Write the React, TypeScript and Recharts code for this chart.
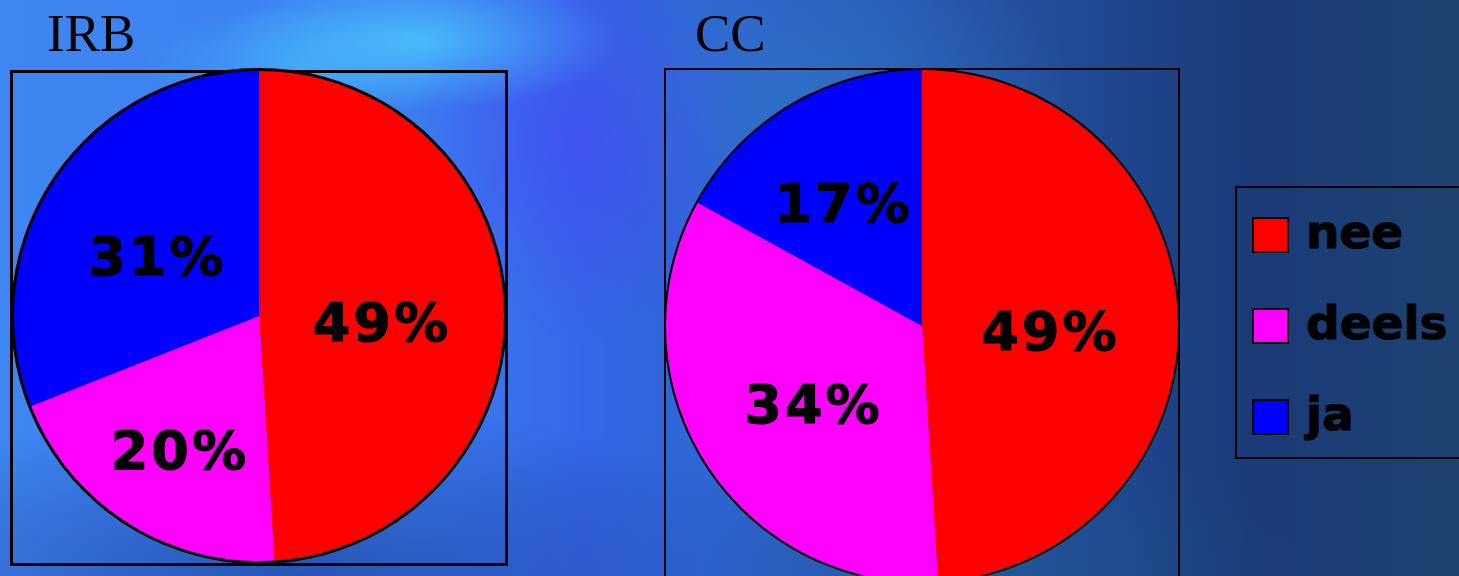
import React from 'react';
import { PieChart, Pie, Cell, Legend } from 'recharts';

// ---------- data ----------
const categories = ['nee', 'deels', 'ja'];
const irbValues = [49, 20, 31];
const ccValues = [49, 34, 17];
const sliceColors = ['#ff0000', '#ff00ff', '#0000ff'];
const chartTitles = ['IRB', 'CC'];

const buildRows = (values: number[]) =>
  categories.map((name, i) => ({ name, value: values[i], fill: sliceColors[i] }));

const irbData = buildRows(irbValues);
const ccData = buildRows(ccValues);
const outline = [{ name: 'outline', value: 1 }];

const RAD = Math.PI / 180;
const noMargin = { top: 0, right: 0, bottom: 0, left: 0 };

// percentage labels: big slices at half radius, small ones pushed further out
const renderLabel = (props: any) => {
  const { cx, cy, midAngle, outerRadius, value, percent } = props;
  const r = outerRadius * (percent > 0.25 ? 0.5 : 0.6);
  const x = cx + r * Math.cos(-midAngle * RAD);
  const y = cy + r * Math.sin(-midAngle * RAD) + 10;
  return (
    <text
      x={x}
      y={y}
      textAnchor="middle"
      dominantBaseline="central"
      fill="#000"
      stroke="#000"
      strokeWidth={1.2}
      style={{ fontFamily: '"DejaVu Sans", Verdana, sans-serif', fontWeight: 700, fontSize: 54, letterSpacing: 3 }}
    >
      {`${value}%`}
    </text>
  );
};

const renderLegend = (props: any) => {
  const items = (props.payload || [])
    .filter((p: any) => categories.includes(p.value))
    .sort((a: any, b: any) => categories.indexOf(a.value) - categories.indexOf(b.value));
  return (
    <div
      style={{
        boxSizing: 'border-box',
        width: 240,
        height: 273,
        border: '2px solid #000',
        paddingTop: 29,
        paddingLeft: 15,
      }}
    >
      {items.map((item: any, i: number) => (
        <div key={item.value} style={{ display: 'flex', alignItems: 'center', height: 36, marginBottom: i < items.length - 1 ? 55 : 0 }}>
          <span
            style={{
              display: 'inline-block',
              boxSizing: 'border-box',
              width: 37,
              height: 36,
              background: sliceColors[categories.indexOf(item.value)],
              border: '2px solid #000',
              marginRight: 17,
            }}
          />
          <span
            style={{
              fontFamily: '"DejaVu Sans", Verdana, sans-serif',
              fontWeight: 700,
              fontSize: 47,
              color: '#000',
              lineHeight: '36px',
              position: 'relative',
              top: -3,
              WebkitTextStroke: '1px #000',
            }}
          >
            {item.value}
          </span>
        </div>
      ))}
    </div>
  );
};

const titleStyle: React.CSSProperties = {
  position: 'absolute',
  fontFamily: '"Liberation Serif", "Times New Roman", serif',
  fontSize: 53,
  lineHeight: '54px',
  color: '#000',
};

export default function App() {
  return (
    <div
      style={{
        position: 'absolute',
        left: 0,
        top: 0,
        width: 1459,
        height: 576,
        overflow: 'hidden',
        background: [
          'radial-gradient(ellipse 200px 70px at 420px 40px, rgba(80,210,255,0.7), rgba(80,210,255,0) 100%)',
          'radial-gradient(ellipse 160px 60px at 300px 65px, rgba(70,190,250,0.5), rgba(70,190,250,0) 100%)',
          'radial-gradient(ellipse 170px 200px at 580px 140px, rgba(72,70,245,0.6), rgba(72,70,245,0) 100%)',
          'radial-gradient(ellipse 260px 160px at 820px 100px, rgba(50,130,200,0.45), rgba(50,130,200,0) 100%)',
          'radial-gradient(ellipse 520px 170px at 300px 576px, rgba(28,60,150,0.65), rgba(28,60,150,0) 100%)',
          'radial-gradient(ellipse 300px 150px at 1000px 576px, rgba(30,90,140,0.5), rgba(30,90,140,0) 100%)',
          'linear-gradient(to right, #3e86f2 0%, #3b7ef0 28%, #3566e8 40%, #2f66d4 48%, #2a5cbc 58%, #224b98 72%, #1a3a78 86%, #1d4270 100%)',
        ].join(', '),
      }}
    >
      <div style={{ ...titleStyle, left: 47, top: 6 }}>{chartTitles[0]}</div>
      <div style={{ ...titleStyle, left: 695, top: 6 }}>{chartTitles[1]}</div>

      {/* plot frames */}
      <div style={{ position: 'absolute', left: 10, top: 70, width: 498, height: 496, boxSizing: 'border-box', border: '3px solid #000' }} />
      <div style={{ position: 'absolute', left: 664, top: 68, width: 516, height: 520, boxSizing: 'border-box', border: '2px solid #000' }} />

      <div style={{ position: 'absolute', left: 0, top: 0 }}>
        <PieChart width={540} height={576} margin={noMargin}>
          <Pie
            data={irbData}
            dataKey="value"
            nameKey="name"
            cx={259}
            cy={316}
            outerRadius={246}
            startAngle={90}
            endAngle={-270}
            stroke="none"
            label={renderLabel}
            labelLine={false}
            isAnimationActive={false}
          >
            {irbData.map((d) => (
              <Cell key={d.name} fill={d.fill} />
            ))}
          </Pie>
          <Pie
            data={outline}
            dataKey="value"
            cx={259}
            cy={316}
            innerRadius={245}
            outerRadius={248}
            fill="#000"
            stroke="none"
            legendType="none"
            isAnimationActive={false}
          />
        </PieChart>
      </div>

      <div style={{ position: 'absolute', left: 560, top: 0 }}>
        <PieChart width={899} height={576} margin={noMargin}>
          <Pie
            data={ccData}
            dataKey="value"
            nameKey="name"
            cx={362}
            cy={326}
            outerRadius={257}
            startAngle={90}
            endAngle={-270}
            stroke="none"
            label={renderLabel}
            labelLine={false}
            isAnimationActive={false}
          >
            {ccData.map((d) => (
              <Cell key={d.name} fill={d.fill} />
            ))}
          </Pie>
          <Pie
            data={outline}
            dataKey="value"
            cx={362}
            cy={326}
            innerRadius={256}
            outerRadius={258}
            fill="#000"
            stroke="none"
            legendType="none"
            isAnimationActive={false}
          />
          <Legend
            layout="vertical"
            content={renderLegend}
            wrapperStyle={{ position: 'absolute', left: 675, top: 186, width: 240, height: 273 }}
          />
        </PieChart>
      </div>
    </div>
  );
}
